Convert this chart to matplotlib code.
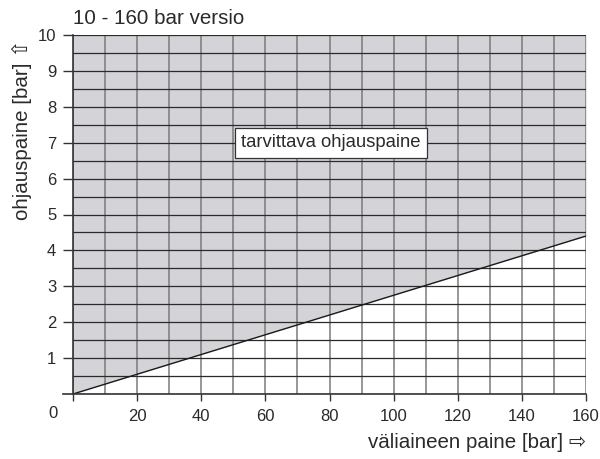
import matplotlib
matplotlib.use("Agg")
import matplotlib.pyplot as plt
import numpy as np

plt.rcParams['font.family'] = ['Liberation Sans', 'DejaVu Sans']

x_line = [0, 160]
y_line = [0, 4.4]
x_ticks = [0, 20, 40, 60, 80, 100, 120, 140, 160]
x_ticklabels = ['', '20', '40', '60', '80', '100', '120', '140', '160']
y_ticks = [1, 2, 3, 4, 5, 6, 7, 8, 9, 10]
x_grid = list(range(0, 161, 10))
y_grid = [i * 0.5 for i in range(0, 21)]

fig = plt.figure(figsize=(6, 4.59), dpi=100)
ax = fig.add_axes([73/600, 1-394/459, (586-73)/600, (394-35)/459])
ax.set_xlim(0, 160)
ax.set_ylim(0, 10)

gray = '#d4d4d8'
ax.fill_between(x_line, y_line, [10, 10], color=gray, lw=0, zorder=1)
for xv in x_grid:
    ax.axvline(xv, color='#7a7a7a', lw=1.1, zorder=2)
for yv in y_grid:
    ax.axhline(yv, color='#2a2a2a', lw=0.9, zorder=2)
ax.plot(x_line, y_line, color='#1a1a1a', lw=1.0, zorder=3)

for s in ['top', 'right']:
    ax.spines[s].set_visible(False)
ax.spines['left'].set_color('#333333')
ax.spines['left'].set_linewidth(1.2)
ax.spines['bottom'].set_visible(False)

ax.set_xticks(x_ticks)
ax.set_xticklabels(x_ticklabels)
ax.set_yticks(y_ticks)
ax.tick_params(axis='x', length=5, width=1, color='#333333', pad=6, labelsize=12, labelcolor='#2a2a2a')
ax.tick_params(axis='y', length=7, width=1, color='#333333', pad=5, labelsize=12, labelcolor='#2a2a2a')
# bottom axis line extending left
ax.plot([-3.2, 160], [0, 0], color='#333333', lw=1.2, clip_on=False, zorder=4)

fig.text(53/600, 1-414/459, '0', ha='center', va='center', fontsize=12, color='#2a2a2a')

fig.text(73/600, 1-18/459, '10 - 160 bar versio', ha='left', va='center', fontsize=14.8, color='#2a2a2a')
fig.text(22/600, 1-130/459, 'ohjauspaine [bar] \u21e7', rotation=90, ha='center', va='center', fontsize=14.8, color='#2a2a2a')
fig.text(586/600, 1-443/459, 'väliaineen paine [bar] \u21e8', ha='right', va='center', fontsize=14.8, color='#2a2a2a')

ax.text(80.5, 7.0, 'tarvittava ohjauspaine', ha='center', va='center', fontsize=13.3, color='#2a2a2a',
        bbox=dict(boxstyle='square,pad=0.35', fc='white', ec='#333333', lw=0.9), zorder=5)

fig.savefig('out.png', dpi=100)
